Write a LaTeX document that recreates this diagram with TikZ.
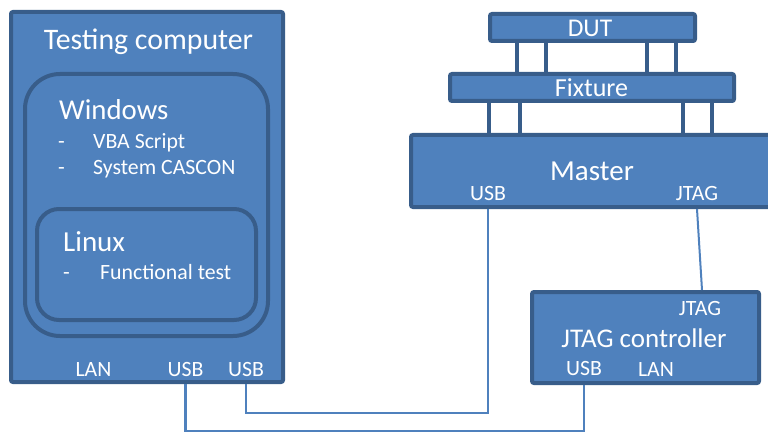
\documentclass[tikz,border=0pt]{standalone}
\usepackage{fontspec}
\setmainfont{Carlito}
\usepackage{tikz}
\usetikzlibrary{calc}
\definecolor{boxfill}{HTML}{4F81BD}
\definecolor{boxline}{HTML}{385D8A}
\tikzset{
  unit/.style={draw=boxline, fill=boxfill, line width=4pt, rounded corners=2pt, inner sep=0pt},
  osbox/.style={draw=boxline, line width=4pt, inner sep=0pt},
  txt/.style={text=white, inner sep=0pt, anchor=base},
  port/.style={txt, font=\fontsize{21.8}{22}\selectfont},
  leg/.style={boxline, line width=3.5pt},
  cable/.style={boxfill, line width=2.5pt},
}

\begin{document}
\begin{tikzpicture}[x=1pt,y=-1pt]
\clip (0,0) rectangle (768,433);
% testing computer
\node[unit, minimum width=272, minimum height=370] (pc) at (147,197) {};
\node[osbox, rounded corners=35pt, minimum width=243, minimum height=262] (win) at (146.5,205) {};
\node[osbox, rounded corners=22pt, minimum width=219, minimum height=111] (lin) at (146.5,264.5) {};
\node[txt, font=\fontsize{29.8}{30}\selectfont] (pctitle) at (148.5,50) {Testing computer};
\node[txt, anchor=base west, font=\fontsize{28.8}{30}\selectfont] (wintitle) at (59,120) {Windows};
\node[port, anchor=base west] (vbadash) at (58,148) {-};
\node[port, anchor=base west] (vba) at (93,148) {VBA Script};
\node[port, anchor=base west] (casdash) at (58,175) {-};
\node[port, anchor=base west] (cascon) at (93,175) {System CASCON};
\node[txt, anchor=base west, font=\fontsize{29}{30}\selectfont] (lintitle) at (63,251) {Linux};
\node[port, anchor=base west] (ftdash) at (63,279) {-};
\node[port, anchor=base west] (ftest) at (100,279) {Functional test};
\node[port] (pcLAN) at (93.5,376) {LAN};
\node[port] (pcUSBa) at (185.5,376) {USB};
\node[port] (pcUSBb) at (246,376) {USB};

% DUT, fixture, master
\node[unit, minimum width=205, minimum height=27] (dut) at (592.5,27.5) {};
\node[txt, font=\fontsize{25.5}{26}\selectfont] (duttitle) at (590,37) {DUT};
\node[unit, minimum width=284, minimum height=27] (fix) at (592,87.5) {};
\node[txt, font=\fontsize{26}{26}\selectfont] (fixtitle) at (591.5,97) {Fixture};
\node[unit, minimum width=370, minimum height=72] (mst) at (596,171) {};
\node[txt, font=\fontsize{29}{30}\selectfont] (msttitle) at (592,180) {Master};
\node[port] (mstUSB) at (488,200) {USB};
\node[port] (mstJTAG) at (697,200) {JTAG};
\foreach \x in {517,546,647,676}
  \draw[leg] (dut.south -| \x,0) -- (fix.north -| \x,0);
\foreach \x in {489,520,683,712}
  \draw[leg] (fix.south -| \x,0) -- (mst.north -| \x,0);

% JTAG controller
\node[unit, minimum width=227, minimum height=91] (ctl) at (645.5,337.5) {};
\node[port] (ctlJTAG) at (700,315) {JTAG};
\node[txt, font=\fontsize{27}{28}\selectfont] (ctltitle) at (644,347) {JTAG controller};
\node[port] (ctlUSB) at (584,375) {USB};
\node[port] (ctlLAN) at (656,376) {LAN};

% cables
\draw[cable] (pc.south -| pcUSBb) -- ++(0,29) -| (mstUSB |- mst.south);
\draw[cable] (pc.south -| pcUSBa) -- ++(0,47) -| (ctlUSB |- ctl.south);
\draw[cable, line width=2pt] (mst.south -| mstJTAG) -- ($(ctl.north -| ctlJTAG)+(2,0)$);
\end{tikzpicture}
\end{document}
